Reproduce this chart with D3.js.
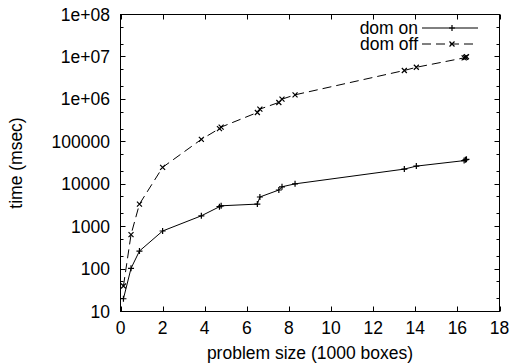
<!DOCTYPE html>
<html>
<head>
<meta charset="utf-8">
<script src="https://cdn.jsdelivr.net/npm/d3@7"></script>
<style>
	body { margin: 0; background: #fff; }
	svg text { font-family: "Liberation Sans", Arial, sans-serif; font-size: 17.5px; fill: #000; }
</style>
</head>
<body>
<svg id="chart" width="512" height="364"></svg>
<script>
'use strict';
// problem size, in 1000 boxes
var problemSizes = [0.14, 0.5, 0.9, 2.0, 3.84, 4.7, 4.78, 6.5, 6.62, 7.52, 7.67, 8.29, 13.48, 14.05, 16.32, 16.38, 16.43];
// time in msec
var domOnTimes = [20, 104, 266, 790, 1800, 2950, 3100, 3400, 5000, 7300, 8700, 10200, 22700, 26700, 36000, 37500, 38500];
var domOffTimes = [40, 650, 3400, 25000, 114000, 205000, 222000, 490000, 590000, 845000, 1010000, 1280000, 4800000, 5700000, 9500000, 9800000, 10100000];

var seriesNames = ['dom on', 'dom off'];
var xTickValues = [0, 2, 4, 6, 8, 10, 12, 14, 16, 18];
var yTickValues = [10, 100, 1000, 10000, 100000, 1e6, 1e7, 1e8];
var yTickLabels = ['10', '100', '1000', '10000', '100000', '1e+06', '1e+07', '1e+08'];

var svg = d3.select('#chart');

var x = d3.scaleLinear().domain([0, 18]).range([120.5, 499.5]);
var y = d3.scaleLog().domain([10, 1e8]).range([311.5, 14.5]);

var majorLen = 5, minorLen = 3;

// minor ticks at 2 and 5 of each decade
var yMinor = [];
yTickValues.forEach(function(v){
	if (v < 1e8) { yMinor.push(v * 2); yMinor.push(v * 5); }
});

var ticks = svg.append('g').attr('stroke', '#000').attr('stroke-width', 1);

xTickValues.forEach(function(v){
	var px = Math.round(x(v)) + 0.5;
	ticks.append('line').attr('x1', px).attr('x2', px)
		.attr('y1', y.range()[0]).attr('y2', y.range()[0] - majorLen);
	ticks.append('line').attr('x1', px).attr('x2', px)
		.attr('y1', y.range()[1]).attr('y2', y.range()[1] + majorLen);
});

var drawYTick = function(v, len){
	var py = Math.round(y(v) - 0.5) + 0.5;
	ticks.append('line').attr('x1', x.range()[0]).attr('x2', x.range()[0] + len)
		.attr('y1', py).attr('y2', py);
	ticks.append('line').attr('x1', x.range()[1]).attr('x2', x.range()[1] - len)
		.attr('y1', py).attr('y2', py);
};
yTickValues.forEach(function(v){ drawYTick(v, majorLen); });
yMinor.forEach(function(v){ drawYTick(v, minorLen); });

// frame
svg.append('rect')
	.attr('x', x.range()[0]).attr('y', y.range()[1])
	.attr('width', x.range()[1] - x.range()[0])
	.attr('height', y.range()[0] - y.range()[1])
	.attr('fill', 'none').attr('stroke', '#000').attr('stroke-width', 1);

// tick labels
svg.append('g').selectAll('text')
	.data(xTickValues)
	.enter().append('text')
		.attr('x', function(d){ return x(d); })
		.attr('y', 334)
		.attr('text-anchor', 'middle')
		.text(function(d){ return d; });

svg.append('g').selectAll('text')
	.data(yTickValues)
	.enter().append('text')
		.attr('x', 110)
		.attr('y', function(d){ return y(d) + 6; })
		.attr('text-anchor', 'end')
		.text(function(d, i){ return yTickLabels[i]; });

// axis titles
svg.append('text')
	.attr('x', (x.range()[0] + x.range()[1]) / 2)
	.attr('y', 359)
	.attr('text-anchor', 'middle')
	.text('problem size (1000 boxes)');

svg.append('text')
	.attr('transform', 'translate(22,' + ((y.range()[0] + y.range()[1]) / 2) + ') rotate(-90)')
	.attr('text-anchor', 'middle')
	.text('time (msec)');

// series
var line = d3.line()
	.x(function(d){ return x(d[0]); })
	.y(function(d){ return y(d[1]); });

var plus = function(g, cx, cy){
	g.append('path').attr('d', 'M' + (cx - 3) + ',' + cy + 'H' + (cx + 3) + 'M' + cx + ',' + (cy - 3) + 'V' + (cy + 3));
};
var cross = function(g, cx, cy){
	g.append('path').attr('d', 'M' + (cx - 2.5) + ',' + (cy - 2.5) + 'L' + (cx + 2.5) + ',' + (cy + 2.5) +
		'M' + (cx - 2.5) + ',' + (cy + 2.5) + 'L' + (cx + 2.5) + ',' + (cy - 2.5));
};

var series = [
	{ name: seriesNames[0], values: domOnTimes, dash: null, marker: plus },
	{ name: seriesNames[1], values: domOffTimes, dash: '9,5', marker: cross }
];

series.forEach(function(s, si){
	var pts = problemSizes.map(function(p, i){ return [p, s.values[i]]; });
	var g = svg.append('g').attr('fill', 'none').attr('stroke', '#000').attr('stroke-width', 1);
	g.append('path').datum(pts).attr('d', line).attr('stroke-dasharray', s.dash);
	var mg = svg.append('g').attr('fill', 'none').attr('stroke', '#000').attr('stroke-width', 1.2);
	pts.forEach(function(p){ s.marker(mg, x(p[0]), y(p[1])); });

	// legend entry
	var ly = 28 + si * 16;
	svg.append('text')
		.attr('x', 418).attr('y', ly + 6)
		.attr('text-anchor', 'end')
		.text(s.name);
	g.append('line').attr('x1', 422).attr('x2', 478).attr('y1', ly).attr('y2', ly)
		.attr('stroke-dasharray', s.dash);
	s.marker(mg, 452, ly);
});
</script>
</body>
</html>
